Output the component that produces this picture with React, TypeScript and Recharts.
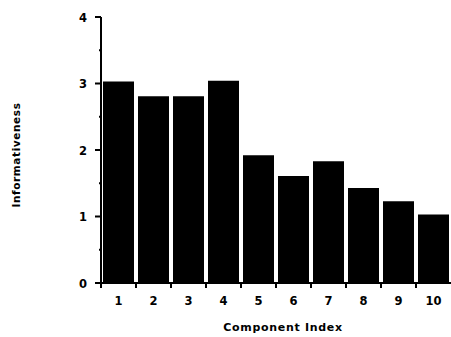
import { BarChart, Bar, XAxis, YAxis, Label } from "recharts";

const components = ["1", "2", "3", "4", "5", "6", "7", "8", "9", "10"];
const informativeness = [3.03, 2.81, 2.81, 3.04, 1.92, 1.61, 1.83, 1.43, 1.23, 1.03];
const yTicks = [0, 0.5, 1, 1.5, 2, 2.5, 3, 3.5, 4];

const data = components.map((c, i) => ({ name: c, value: informativeness[i] }));

const font = "'DejaVu Sans', Arial, sans-serif";
const band = 35;

const XTick = (props: any) => {
  const { x, y, payload } = props;
  return (
    <g>
      <line x1={x - band / 2} x2={x - band / 2} y1={y} y2={y + 5} stroke="#000" strokeWidth={2} />
      <text x={x} y={y + 22} textAnchor="middle" fontFamily={font} fontWeight="bold" fontSize={11.5} fill="#000">
        {payload.value}
      </text>
    </g>
  );
};

const YTick = (props: any) => {
  const { x, y, payload } = props;
  const major = Number.isInteger(payload.value);
  return (
    <g>
      <line x1={major ? x - 6 : x - 2} x2={x} y1={y} y2={y} stroke="#000" strokeWidth={2} />
      {major && (
        <text x={x - 14} y={y + 4.5} textAnchor="end" fontFamily={font} fontWeight="bold" fontSize={11.5} fill="#000">
          {payload.value}
        </text>
      )}
    </g>
  );
};

export default function App() {
  return (
    <div style={{ position: "fixed", left: 0, top: 0, width: 451, height: 337, background: "#fff" }}>
      <BarChart
        width={451}
        height={337}
        data={data}
        margin={{ top: 17, right: 0, bottom: 24, left: 0 }}
        barCategoryGap={2}
      >
        <XAxis
          dataKey="name"
          height={30}
          tickLine={false}
          tickSize={0}
          tickMargin={0}
          tick={<XTick />}
          axisLine={{ stroke: "#000", strokeWidth: 2 }}
        >
          <Label
            content={() => (
              <text x={283} y={331} textAnchor="middle" fontFamily={font} fontWeight="bold" fontSize={11} letterSpacing={0.7} fill="#000">
                Component Index
              </text>
            )}
          />
        </XAxis>
        <YAxis
          width={101}
          domain={[0, 4]}
          ticks={yTicks}
          interval={0}
          tickLine={false}
          tickSize={0}
          tickMargin={0}
          tick={<YTick />}
          axisLine={{ stroke: "#000", strokeWidth: 2 }}
        >
          <Label
            content={() => (
              <text
                x={20}
                y={155}
                transform="rotate(-90 20 155)"
                textAnchor="middle"
                fontFamily={font}
                fontWeight="bold"
                fontSize={10.5}
                letterSpacing={0.6}
                fill="#000"
              >
                Informativeness
              </text>
            )}
          />
        </YAxis>
        <Bar dataKey="value" fill="#000" isAnimationActive={false} />
      </BarChart>
    </div>
  );
}
